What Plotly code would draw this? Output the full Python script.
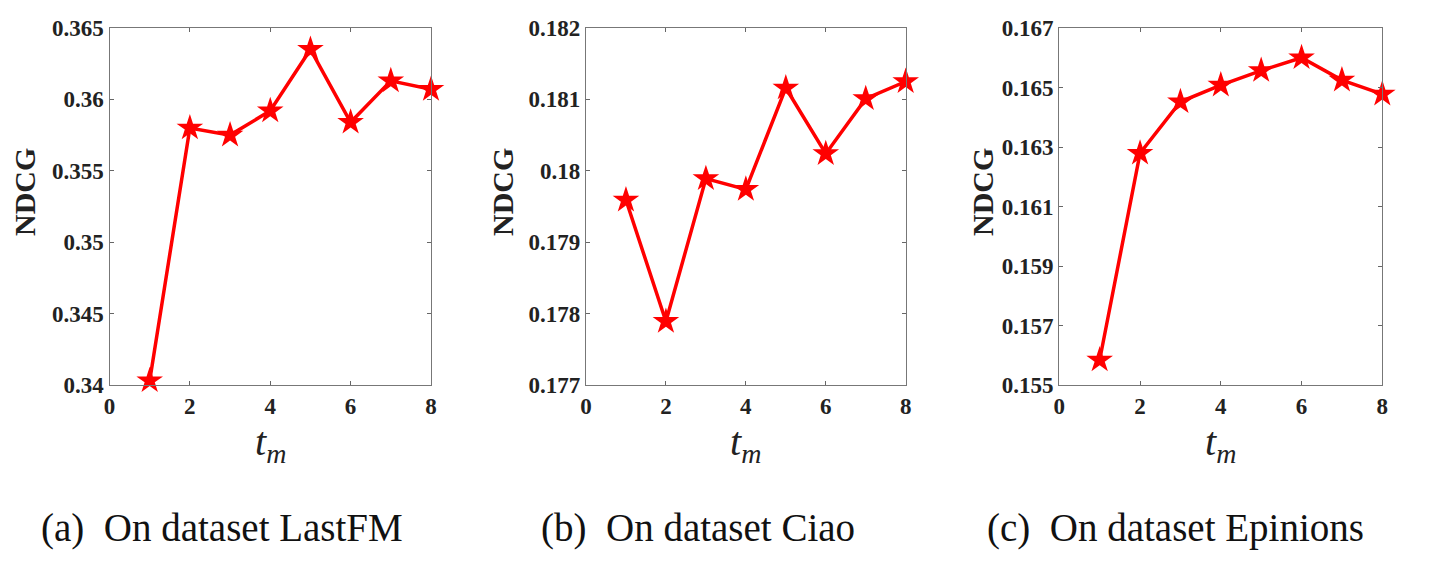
import plotly.graph_objects as go

tm = [1, 2, 3, 4, 5, 6, 7, 8]
ndcg_lastfm = [0.3403, 0.3580, 0.3575, 0.3592, 0.3635, 0.3584, 0.3613, 0.3607]
ndcg_ciao = [0.17959, 0.17789, 0.17989, 0.17974, 0.18116, 0.18024, 0.18101, 0.18125]
ndcg_epinions = [0.15584, 0.16279, 0.16452, 0.16508, 0.16557, 0.16600, 0.16525, 0.16478]

x_ticks = [0, 2, 4, 6, 8]
y_ticks_lastfm = [0.34, 0.345, 0.35, 0.355, 0.36, 0.365]
y_ticks_ciao = [0.177, 0.178, 0.179, 0.18, 0.181, 0.182]
y_ticks_epinions = [0.155, 0.157, 0.159, 0.161, 0.163, 0.165, 0.167]
y_labels_lastfm = ["0.34", "0.345", "0.35", "0.355", "0.36", "0.365"]
y_labels_ciao = ["0.177", "0.178", "0.179", "0.18", "0.181", "0.182"]
y_labels_epinions = ["0.155", "0.157", "0.159", "0.161", "0.163", "0.165", "0.167"]

captions = ["(a)  On dataset LastFM", "(b)  On dataset Ciao", "(c)  On dataset Epinions"]

W, H = 1452, 572
OFF = 8  # page body margin


def px_x(sx):
    return (sx - OFF) / W


def px_y(sy):
    return 1 - (sy - OFF) / H


panels = [
    (ndcg_lastfm, y_ticks_lastfm, y_labels_lastfm, 109.5, 431.0, 24, 222),
    (ndcg_ciao, y_ticks_ciao, y_labels_ciao, 586.0, 905.7, 502, 698),
    (ndcg_epinions, y_ticks_epinions, y_labels_epinions, 1059.3, 1382.3, 982, 1175),
]
top_px, bot_px = 28, 385

fig = go.Figure()
annotations = []
for i, (vals, yt, yl, x0, x1, ylab_x, cap_x) in enumerate(panels):
    n = "" if i == 0 else str(i + 1)
    tick_font = dict(family="Liberation Serif", size=23, color="#222222", weight="bold")
    fig.add_trace(go.Scatter(
        x=tm, y=vals, mode="lines+markers",
        line=dict(color="#ff0000", width=3.5),
        marker=dict(symbol="star", size=20, color="#ff0000"),
        xaxis="x" + n, yaxis="y" + n, showlegend=False, cliponaxis=False,
    ))
    fig.update_layout(**{
        "xaxis" + n: dict(
            domain=[px_x(x0), px_x(x1)], range=[0, 8], anchor="y" + n,
            tickvals=x_ticks, ticktext=[str(v) for v in x_ticks],
            ticks="inside", ticklen=4, tickcolor="#666666", mirror="ticks",
            showline=True, linecolor="#777777", linewidth=1.2,
            showgrid=False, zeroline=False, tickfont=tick_font,
            automargin=False, fixedrange=True,
        ),
        "yaxis" + n: dict(
            domain=[px_y(bot_px), px_y(top_px)], range=[yt[0], yt[-1]], anchor="x" + n,
            tickvals=yt, ticktext=yl,
            ticks="inside", ticklen=4, tickcolor="#666666", mirror="ticks",
            showline=True, linecolor="#777777", linewidth=1.2,
            showgrid=False, zeroline=False, tickfont=tick_font,
            automargin=False, fixedrange=True,
        ),
    })
    annotations.append(dict(
        text="<b>NDCG</b>", x=px_x(ylab_x), y=px_y(192), xref="paper", yref="paper",
        textangle=-90, showarrow=False, xanchor="center", yanchor="middle",
        font=dict(family="Liberation Serif", size=30, color="#222222"),
    ))
    annotations.append(dict(
        text="<i>t</i><sub><i>m</i></sub>", x=px_x((x0 + x1) / 2), y=px_y(444),
        xref="paper", yref="paper", showarrow=False, xanchor="center", yanchor="middle",
        font=dict(family="Liberation Serif", size=40, color="#222222"),
    ))
    annotations.append(dict(
        text=captions[i], x=px_x(cap_x), y=px_y(528), xref="paper", yref="paper",
        showarrow=False, xanchor="center", yanchor="middle",
        font=dict(family="Liberation Serif", size=39, color="#111111"),
    ))

fig.update_layout(
    width=W, height=H, margin=dict(l=0, r=0, t=0, b=0, autoexpand=False),
    paper_bgcolor="white", plot_bgcolor="white",
    font=dict(family="Liberation Serif"),
    annotations=annotations,
)
fig.write_html("out.html")
